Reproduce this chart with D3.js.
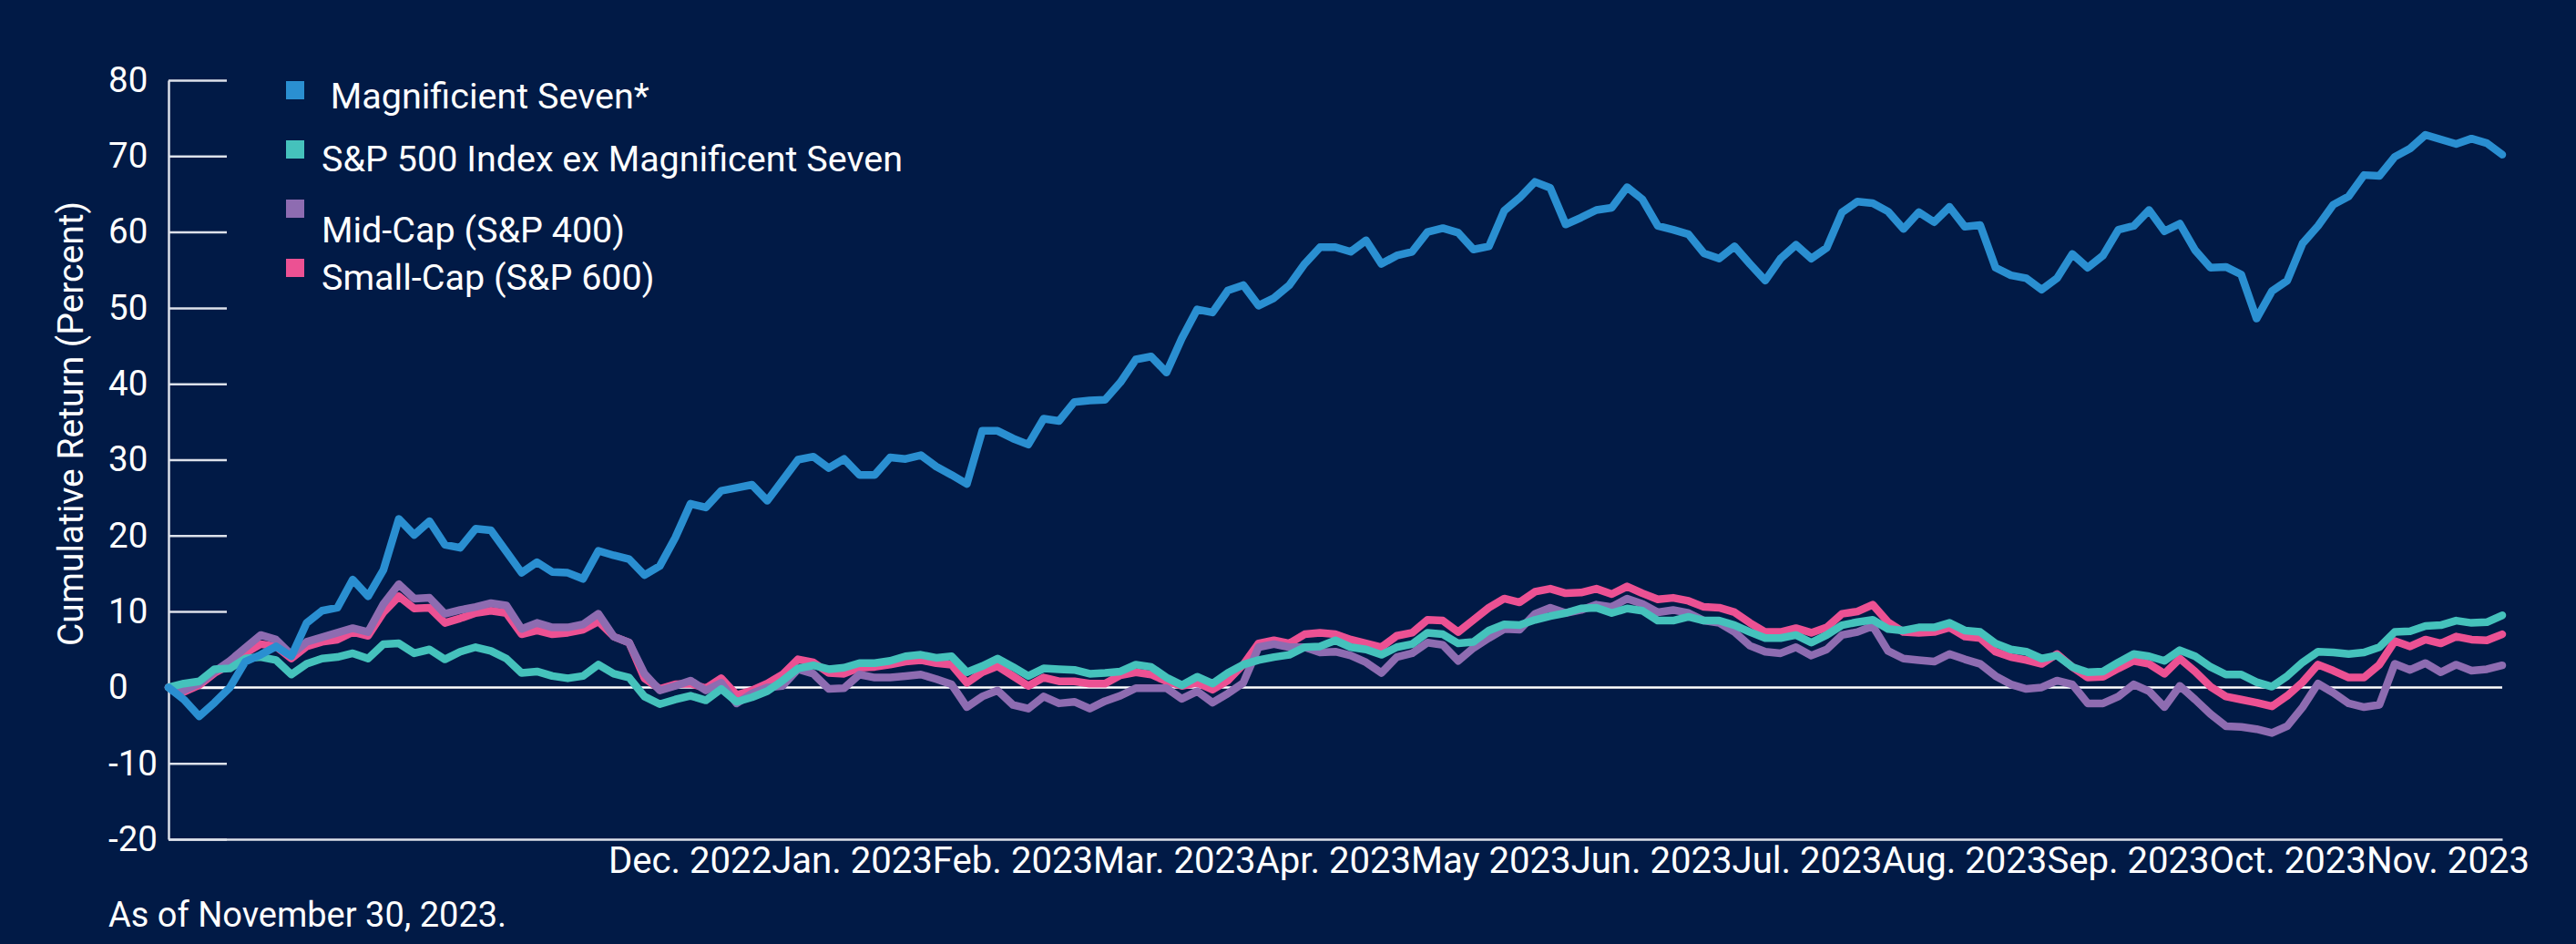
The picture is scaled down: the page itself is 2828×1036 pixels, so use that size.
<!DOCTYPE html>
<html>
<head>
<meta charset="utf-8">
<script src="https://cdn.jsdelivr.net/npm/d3@7"></script>
<style>
  html, body { margin: 0; padding: 0; background: #011a46; }
  svg { display: block; }
</style>
</head>
<body>
<div id="chart"></div>
<script>
// data, ~every second trading day, Nov 30 2022 -> Nov 30 2023
const months = ["Dec. 2022", "Jan. 2023", "Feb. 2023", "Mar. 2023", "Apr. 2023", "May 2023",
  "Jun. 2023", "Jul. 2023", "Aug. 2023", "Sep. 2023", "Oct. 2023", "Nov. 2023"];

const yTicks = [80, 70, 60, 50, 40, 30, 20, 10, 0, -10, -20];

const seriesNames = ["\u00a0Magnificient Seven*", "S&P 500 Index ex Magnificent Seven",
  "Mid-Cap (S&P 400)", "Small-Cap (S&P 600)"];

const mag7 = [0.0, -1.6, -3.8, -2.0, 0.0, 3.4, 4.3, 5.4, 4.1, 8.5, 10.1, 10.5, 14.2, 12.0, 15.5, 22.2,
  20.1, 21.9, 18.8, 18.4, 20.9, 20.7, 17.9, 15.1, 16.5, 15.2, 15.1, 14.3, 18.0, 17.4, 16.9, 14.8,
  16.0, 19.7, 24.2, 23.7, 25.9, 26.3, 26.7, 24.6, 27.3, 30.0, 30.4, 28.9, 30.1, 28.0, 28.0, 30.3,
  30.1, 30.6, 29.1, 28.0, 26.8, 33.8, 33.8, 32.8, 32.0, 35.4, 35.1, 37.6, 37.8, 37.9,
  40.2, 43.2, 43.6, 41.5, 46.0, 49.8, 49.4, 52.3, 53.0, 50.3, 51.3, 53.0, 55.8, 58.0, 58.0, 57.4,
  58.9, 55.8, 56.9, 57.4, 60.0, 60.5, 59.9, 57.7, 58.1, 62.8, 64.5, 66.6, 65.8, 61.0, 61.9,
  62.9, 63.2, 65.9, 64.3, 60.8, 60.3, 59.7, 57.2, 56.5, 58.1, 55.8, 53.6, 56.5, 58.3, 56.5, 57.9,
  62.6, 64.0, 63.8, 62.7, 60.4, 62.6, 61.3, 63.3, 60.7, 60.9, 55.3, 54.3, 53.9, 52.4, 53.9,
  57.1, 55.3, 56.9, 60.3, 60.8, 62.9, 60.1, 61.1, 57.6, 55.3, 55.4, 54.4, 48.6, 52.2, 53.6, 58.5,
  60.8, 63.6, 64.7, 67.5, 67.4, 69.9, 71.0, 72.8, 72.2, 71.6, 72.3, 71.7, 70.2];

const spxEx = [0.0, 0.5, 0.8, 2.4, 2.5, 3.8, 4.0, 3.6, 1.7, 3.1, 3.8, 4.0, 4.5, 3.8, 5.7, 5.8,
  4.5, 5.0, 3.7, 4.7, 5.3, 4.8, 3.8, 1.9, 2.1, 1.5, 1.2, 1.5, 3.0, 1.8, 1.3, -1.2,
  -2.2, -1.6, -1.1, -1.7, -0.2, -1.9, -1.3, -0.5, 0.9, 2.5, 2.9, 2.4, 2.6, 3.2, 3.2, 3.5,
  4.1, 4.3, 3.9, 4.1, 2.0, 2.8, 3.8, 2.7, 1.5, 2.5, 2.4, 2.3, 1.8, 1.9,
  2.1, 3.0, 2.7, 1.3, 0.3, 1.4, 0.5, 1.9, 3.0, 3.6, 4.0, 4.3, 5.3, 5.4, 6.2, 5.3,
  5.0, 4.3, 5.3, 5.7, 7.2, 7.0, 5.8, 6.0, 7.5, 8.3, 8.2, 8.9, 9.4, 9.8, 10.4,
  10.5, 9.8, 10.4, 10.1, 8.8, 8.8, 9.3, 8.8, 8.8, 8.2, 7.3, 6.5, 6.5, 6.9, 5.9, 6.9,
  8.2, 8.6, 8.9, 7.7, 7.5, 7.9, 7.9, 8.5, 7.5, 7.3, 5.8, 5.0, 4.7, 3.8, 4.2,
  2.7, 2.0, 2.1, 3.3, 4.4, 4.1, 3.5, 4.9, 4.1, 2.7, 1.7, 1.7, 0.7, 0.1, 1.5, 3.3,
  4.7, 4.6, 4.4, 4.6, 5.3, 7.3, 7.4, 8.1, 8.2, 8.8, 8.5, 8.6, 9.5];

const midCap = [0.0, -0.4, 0.5, 2.1, 3.5, 5.2, 6.9, 6.3, 4.3, 6.0, 6.6, 7.2, 7.8, 7.3, 11.0, 13.6,
  11.7, 11.8, 9.7, 10.2, 10.6, 11.1, 10.8, 7.7, 8.5, 7.9, 7.9, 8.3, 9.7, 6.7, 5.9, 1.8,
  -0.4, 0.2, 0.9, -0.4, 0.6, -2.1, -0.8, 0.0, 0.2, 2.4, 1.8, -0.2, -0.1, 1.7, 1.3, 1.3,
  1.5, 1.7, 1.1, 0.4, -2.6, -1.2, -0.4, -2.3, -2.8, -1.2, -2.1, -1.9, -2.8, -1.8,
  -1.1, -0.1, -0.1, -0.1, -1.5, -0.5, -2.0, -0.8, 0.6, 5.3, 5.7, 5.3, 5.3, 4.6, 4.7, 4.2,
  3.3, 1.9, 4.0, 4.5, 5.9, 5.6, 3.5, 5.2, 6.5, 7.7, 7.6, 9.7, 10.5, 9.8, 10.2,
  10.9, 10.6, 11.7, 11.0, 9.9, 10.2, 9.8, 8.8, 8.5, 7.3, 5.5, 4.7, 4.5, 5.3, 4.2, 5.0,
  6.9, 7.3, 8.1, 4.8, 3.8, 3.6, 3.4, 4.4, 3.7, 3.1, 1.5, 0.4, -0.2, 0.0, 0.9,
  0.4, -2.1, -2.1, -1.2, 0.4, -0.5, -2.6, 0.2, -1.6, -3.5, -5.1, -5.2, -5.5, -6.0, -5.1, -2.6,
  0.5, -0.7, -2.1, -2.6, -2.3, 3.1, 2.3, 3.2, 2.0, 3.0, 2.2, 2.4, 2.9];

const smallCap = [0.0, -0.6, 0.3, 1.9, 3.0, 4.5, 5.7, 5.4, 3.8, 5.4, 6.0, 6.3, 7.3, 6.8, 9.9, 12.0,
  10.4, 10.5, 8.5, 9.1, 9.8, 10.1, 9.8, 7.0, 7.5, 7.0, 7.2, 7.6, 8.7, 6.7, 5.9, 1.2,
  -0.2, 0.4, 0.5, -0.1, 1.2, -1.0, -0.4, 0.5, 1.7, 3.7, 3.3, 1.9, 1.8, 2.6, 2.7, 3.0,
  3.4, 3.6, 3.2, 3.0, 0.6, 2.0, 2.8, 1.5, 0.2, 1.3, 0.8, 0.8, 0.5, 0.5,
  1.6, 2.0, 1.7, 0.8, 0.2, 0.6, -0.3, 0.9, 3.0, 5.8, 6.2, 5.8, 7.0, 7.2, 7.0, 6.3,
  5.8, 5.3, 6.8, 7.2, 8.9, 8.8, 7.3, 8.9, 10.5, 11.7, 11.2, 12.6, 13.0, 12.4, 12.5,
  13.0, 12.3, 13.3, 12.4, 11.6, 11.8, 11.4, 10.6, 10.5, 9.9, 8.5, 7.3, 7.3, 7.8, 7.2, 7.9,
  9.7, 10.0, 10.9, 8.6, 7.3, 7.2, 7.3, 7.9, 6.7, 6.5, 4.7, 4.0, 3.6, 3.1, 4.4,
  2.7, 1.3, 1.4, 2.5, 3.5, 3.1, 1.8, 3.8, 2.1, 0.1, -1.2, -1.6, -2.0, -2.5, -1.1, 0.7,
  3.0, 2.2, 1.3, 1.3, 3.0, 6.1, 5.4, 6.3, 5.8, 6.7, 6.3, 6.2, 7.0];

const colors = ["#2a8fd1", "#45c2bc", "#8e6cb1", "#ec5193"];

const width = 2828, height = 1036;
const font = "Roboto, 'Noto Sans', sans-serif";

let svg = d3.select("#chart")
  .append("svg")
  .attr("width", width)
  .attr("height", height)
  .style("background", "#011a46");

let x = d3.scaleLinear()
  .domain([0, mag7.length - 1])
  .range([185, 2747]);

let y = d3.scaleLinear()
  .domain([-20, 80])
  .range([921, 88]);

// y axis: ticks point into the plot, labels left aligned further out
let yAxis = svg.append("g")
  .attr("transform", "translate(185,0)")
  .call(d3.axisLeft(y)
    .tickValues(yTicks)
    .tickSize(-64)
    .tickSizeOuter(0)
    .tickFormat(d => String(d)));

yAxis.selectAll("path, line")
  .attr("stroke", "#dde1ea")
  .attr("stroke-width", 2.5);

yAxis.selectAll("text")
  .attr("x", -66)
  .attr("text-anchor", "start")
  .attr("fill", "#ffffff")
  .attr("font-family", font)
  .attr("font-size", 38.5);

// bottom axis line
let xAxis = svg.append("g")
  .attr("transform", "translate(0,921)")
  .call(d3.axisBottom(x).tickValues([]).tickSizeOuter(0));

xAxis.select("path")
  .attr("stroke", "#dde1ea")
  .attr("stroke-width", 2.5);

// month labels run together as one row, like the original
let monthText = svg.append("text")
  .attr("x", 2777)
  .attr("y", 958)
  .attr("text-anchor", "end")
  .attr("fill", "#ffffff")
  .attr("font-family", font)
  .attr("font-size", 40)
  .attr("textLength", 2109)
  .attr("lengthAdjust", "spacingAndGlyphs");

monthText.selectAll("tspan")
  .data(months)
  .join("tspan")
  .text(d => d);

// zero line
svg.append("line")
  .attr("x1", x(0))
  .attr("x2", x(mag7.length - 1))
  .attr("y1", y(0))
  .attr("y2", y(0))
  .attr("stroke", "#ffffff")
  .attr("stroke-width", 2.5);

let line = d3.line()
  .x((d, i) => x(i))
  .y(d => y(d));

// drawn bottom to top: small-cap, mid-cap, S&P ex, mag 7
let series = [mag7, spxEx, midCap, smallCap];
[3, 2, 1, 0].forEach(k => {
  svg.append("path")
    .datum(series[k])
    .attr("d", line)
    .attr("fill", "none")
    .attr("stroke", colors[k])
    .attr("stroke-width", 8.5)
    .attr("stroke-linejoin", "round")
    .attr("stroke-linecap", "round");
});

// legend
const legendDy = [30, 34, 47, 34];
let legend = svg.append("g")
  .attr("transform", "translate(314,89)");

seriesNames.forEach((name, i) => {
  let g = legend.append("g")
    .attr("transform", `translate(0,${i * 65})`);

  g.append("rect")
    .attr("width", 20)
    .attr("height", 20)
    .attr("fill", colors[i]);

  g.append("text")
    .attr("x", 39)
    .attr("y", legendDy[i])
    .attr("fill", "#ffffff")
    .attr("font-family", font)
    .attr("font-size", 39.5)
    .text(name);
});

// y axis title
svg.append("text")
  .attr("transform", "translate(78,465) rotate(-90)")
  .attr("text-anchor", "middle")
  .attr("dominant-baseline", "central")
  .attr("fill", "#ffffff")
  .attr("font-family", font)
  .attr("font-size", 39)
  .text("Cumulative Return (Percent)");

// footnote
svg.append("text")
  .attr("x", 119)
  .attr("y", 1017)
  .attr("fill", "#ffffff")
  .attr("font-family", font)
  .attr("font-size", 38)
  .text("As of November 30, 2023.");
</script>
</body>
</html>
